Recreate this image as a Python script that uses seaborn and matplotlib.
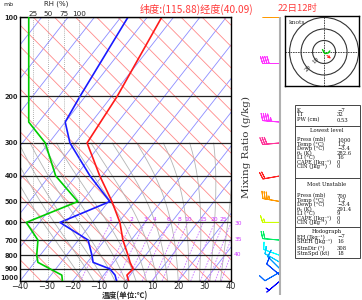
import numpy as np
import pandas as pd
import matplotlib
matplotlib.use("Agg")
import matplotlib.pyplot as plt
from matplotlib.patches import Circle, Rectangle
from matplotlib.lines import Line2D
import seaborn as sns

sns.set_theme(style="white")
plt.rcParams['font.family'] = ['Noto Sans CJK SC', 'DejaVu Sans']
plt.rcParams['axes.unicode_minus'] = True

# sounding values
pres = [1000, 950, 900, 850, 800, 700, 600, 500, 400, 300, 250, 200, 100]
temp = [1.2, -1.2, -0.7, -3.8, -6.6, -13.1, -19.5, -28.7, -40.9, -55.5, -56.6, -57.9, -64.5]
dewp = [-3.4, -5.7, -9.5, -17.8, -20.3, -26.3, -42.2, -29.5, -44.6, -62.0, -70.0, -72.0, -77.3]
rh = [73, 72, 53, 33, 31, 33, 14, 98, 62, 45, 18, 18, 18]

# winds
wind_p = [100, 150, 250, 300, 400, 500, 600, 700, 800, 850, 900, 925, 950, 1000]
wind_dir = [270, 270, 275, 265, 260, 280, 270, 275, 290, 300, 315, 240, 310, 230]
wind_spd = [45, 40, 45, 30, 20, 35, 15, 20, 15, 12, 10, 8, 10, 6]
wind_col = ['#ff9900', '#ff33ff', '#ff33ff', '#ff3399', '#ff2222', '#ff9900', '#ccff00',
            '#00ee66', '#00ffff', '#00ccff', '#0099ff', '#0066ff', '#0044ff', '#0000ff']

# hodograph (knots)
hodo_u = [-1.4, 0.6, 3.5, 5.0]
hodo_v = [2.1, -1.4, -0.9, 0.9]
storm_u, storm_v = 7.8, -7.2

# reference lines
isotherms = np.arange(-120, 41, 10)
adiabat_base = np.arange(-40, 201, 8)
thetaw_lines = np.arange(-16, 37, 4)
mix_ratios = [1, 2, 3, 4, 6, 8, 10, 15, 20, 25, 30, 35, 40]
p_ticks = [100, 200, 300, 400, 500, 600, 700, 800, 900, 1000]
t_ticks = [-40, -30, -20, -10, 0, 10, 20, 30, 40]
rh_ticks = [25, 50, 75, 100]

# table text
tbl_top = [("K", "\u22127"), ("TT", "32"), ("PW (cm)", "0.53")]
tbl_low = [("Press (mb)", "1000"), ("Temp (\u00b0C)", "1.2"), ("Dewp (\u00b0C)", "\u22123.4"),
           ("\u03b8\u2091 (K)", "282.6"), ("LI (\u00b0C)", "16"),
           ("CAPE (Jkg\u207b\u00b9)", "0"), ("CIN (Jkg\u207b\u00b9)", "0")]
tbl_mu = [("Press (mb)", "700"), ("Temp (\u00b0C)", "1.2"), ("Dewp (\u00b0C)", "\u22123.4"),
          ("\u03b8\u2091 (K)", "291.4"), ("LI (\u00b0C)", "9"),
          ("CAPE (Jkg\u207b\u00b9)", "0"), ("CIN (Jkg\u207b\u00b9)", "0")]
tbl_hodo = [("EH (Jkg\u207b\u00b9)", "\u22127"), ("SREH (Jkg\u207b\u00b9)", "16")]
tbl_storm = [("StmDir (\u00b0)", "308"), ("StmSpd (kt)", "18")]

SKEW = 34.0
ADIA = 43.0
SERIF = ['DejaVu Serif', 'Liberation Serif']


def skew_x(t, p):
    return np.asarray(t, float) + SKEW * np.log(1000.0 / np.asarray(p, float))


def sat_vp(tc):
    return 6.112 * np.exp(17.67 * tc / (tc + 243.5))


def dew_from_w(w, p):
    e = w * p / (622.0 + w)
    lg = np.log(e / 6.112)
    return 243.5 * lg / (17.67 - lg)


def moist_path(tw, plev):
    def dtdp(T, p):
        es = sat_vp(T - 273.15)
        rs = 0.622 * es / (p - es)
        num = (287.0 * T + 2.5e6 * rs) / p
        den = 1004.0 + 2.5e6 ** 2 * rs * 0.622 / (287.0 * T * T)
        return num / den
    T = tw + 273.15
    out = [T]
    for i in range(1, len(plev)):
        dp = plev[i] - plev[i - 1]
        k1 = dtdp(T, plev[i - 1])
        k2 = dtdp(T + dp * k1, plev[i])
        T = T + dp * 0.5 * (k1 + k2)
        out.append(T)
    return np.array(out) - 273.15


W, H = 362, 300
fig = plt.figure(figsize=(W / 100, H / 100), dpi=100)
fig.patch.set_facecolor('white')


def px(x0, y0, x1, y1):
    return [x0 / W, 1 - y1 / H, (x1 - x0) / W, (y1 - y0) / H]


ax = fig.add_axes(px(20, 17, 231, 281))
ax.set_yscale('log')
ax.set_ylim(1000, 100)
ax.set_xlim(-40, 40)

pp = np.geomspace(1000, 100, 120)
for t in isotherms:
    ax.plot(skew_x(np.full_like(pp, t), pp), pp, color='#8c8cff', lw=0.6)
for x0 in adiabat_base:
    ax.plot(x0 - ADIA * np.log(1000.0 / pp), pp, color='#ff8a8a', lw=0.6)
pm = np.linspace(1000, 300, 200)
for tw in thetaw_lines:
    ax.plot(skew_x(moist_path(tw, pm), pm), pm, color='#b4b4b4', lw=0.6)
pw = np.linspace(1000, 600, 40)
for w in mix_ratios:
    ax.plot(skew_x(dew_from_w(w, pw), pw), pw, color='#cc77ff', lw=0.6, ls=(0, (2, 1.5)))
    if w <= 25:
        ax.text(skew_x(dew_from_w(w, 600), 600), 597, str(w), color='#cc33ff',
                fontsize=4.3, ha='center', va='bottom', family='DejaVu Sans')
    else:
        pgrid = np.linspace(1000, 500, 500)
        xs = skew_x(dew_from_w(w, pgrid), pgrid)
        pe = pgrid[np.argmin(np.abs(xs - 40))]
        ax.text(41.2, pe, str(w), color='#cc33ff', fontsize=4.3, ha='left', va='center',
                clip_on=False, family='DejaVu Sans')

for p in p_ticks:
    ax.axhline(p, color='#222222', lw=0.9)

prof = pd.DataFrame({'p': pres, 'xt': skew_x(temp, pres), 'xd': skew_x(dewp, pres), 'rh': rh})
sns.lineplot(data=prof, x='xt', y='p', orient='y', sort=False, color='#ff1a1a', lw=1.2, ax=ax)
sns.lineplot(data=prof, x='xd', y='p', orient='y', sort=False, color='#1a1aff', lw=1.2, ax=ax)

# RH axis on top
axr = ax.twiny()
axr.set_xlim(3.75, 348)
for v in rh_ticks:
    axr.axvline(v, color='#999999', lw=0.6, ls=(0, (1, 1.5)))
sns.lineplot(data=prof, x='rh', y='p', orient='y', sort=False, color='#00cc00', lw=1.2, ax=axr)
axr.set_xticks(rh_ticks)
axr.set_xticklabels([str(v) for v in rh_ticks], fontsize=5.2, family='DejaVu Sans')
axr.tick_params(axis='x', length=0, pad=0.3)
axr.set_xlabel('')
for s in axr.spines.values():
    s.set_visible(False)

ax.set_yticks(p_ticks)
ax.set_yticklabels([str(p) for p in p_ticks], fontsize=4.7, fontweight='bold', family='DejaVu Sans')
ax.get_yticklabels()[-1].set_va('bottom')
ax.yaxis.set_minor_locator(matplotlib.ticker.NullLocator())
ax.set_xticks(t_ticks)
ax.set_xticklabels([f"{t}".replace('-', '\u2212') for t in t_ticks], fontsize=5.9, family='DejaVu Sans')
ax.tick_params(axis='y', length=0, pad=1.2)
ax.tick_params(axis='x', length=0, pad=0.8)
ax.set_xlabel('')
ax.set_ylabel('')
for s in ax.spines.values():
    s.set_color('black')
    s.set_linewidth(1.0)

fig.text(56 / W, 1 - 3.8 / H, 'RH (%)', fontsize=5.0, ha='center', va='center', family='DejaVu Sans')
fig.text(8 / W, 1 - 4.5 / H, 'mb', fontsize=4.5, ha='center', va='center', family='DejaVu Sans')
fig.text(140 / W, 1 - 9 / H, '纬度:(115.88)经度(40.09)', fontsize=7.3, color='#ff3a3a',
         ha='left', va='center')
fig.text(278 / W, 1 - 9 / H, '22日12时', fontsize=6.8, color='#ff3a3a', ha='left', va='center')
fig.text(125 / W, 1 - 296 / H, '温度(单位:℃)', fontsize=5.5, fontweight='bold',
         ha='center', va='center')
fig.text(246 / W, 1 - 147 / H, 'Mixing Ratio (g/kg)', fontsize=7.5, rotation=90,
         ha='center', va='center', family=SERIF, color='#333333')

# wind barbs column
axw = fig.add_axes(px(255, 17, 290, 295))
axw.set_yscale('log')
axw.set_ylim(1000 * np.exp(14 / 114.6), 100)
axw.set_xlim(0, 1)
axw.axis('off')
axw.axvline(25 / 35, color='#b0b0b0', lw=1.5)
wd = np.deg2rad(np.array(wind_dir, float))
ws = np.array(wind_spd, float)
axw.barbs(np.full(len(wind_p), 25 / 35), wind_p, -ws * np.sin(wd), -ws * np.cos(wd),
          barbcolor=wind_col, flagcolor=wind_col, length=5, linewidth=0.7,
          sizes=dict(emptybarb=0.0))

# hodograph
axh = fig.add_axes(px(285, 16, 359, 86))
axh.set_xlim(-34, 30.4)
axh.set_ylim(-29.6, 31.3)
axh.set_xticks([])
axh.set_yticks([])
for r in [10, 20, 30]:
    axh.add_patch(Circle((0, 0), r, fill=False, color='#333333', lw=0.8))
axh.axhline(0, color='#333333', lw=0.6, ls=(0, (2, 1)))
axh.axvline(0, color='#333333', lw=0.6, ls=(0, (2, 1)))
axh.plot(hodo_u, hodo_v, color='#00cc00', lw=1.0)
axh.annotate('', xy=(storm_u, storm_v), xytext=(hodo_u[1], hodo_v[1]),
             arrowprops=dict(arrowstyle='->', color='#ff2222', lw=0.7, mutation_scale=4))
for r in [10, 20]:
    axh.text(-r * 0.72, -r * 0.72, str(r), rotation=45, fontsize=4, ha='center', va='center',
             family=SERIF)
axh.text(0.05, 0.94, 'knots', transform=axh.transAxes, fontsize=4.3, ha='left', va='top',
         family=SERIF)
for s in axh.spines.values():
    s.set_color('black')
    s.set_linewidth(1.0)

# info table
tf = dict(fontsize=3.8, family=SERIF, va='center', color='#111111')
fig.add_artist(Rectangle((295 / W, 1 - 258 / H), 65 / W, 153 / H, transform=fig.transFigure,
                         fill=False, edgecolor='#444444', lw=0.7))
for yy in [126, 178, 227]:
    fig.add_artist(Line2D([295 / W, 360 / W], [1 - yy / H] * 2, transform=fig.transFigure,
                          color='#444444', lw=0.7))


def rows(items, y0, dy):
    for i, (lab, val) in enumerate(items):
        y = y0 + i * dy
        fig.text(297 / W, 1 - y / H, lab, ha='left', **tf)
        fig.text(337 / W, 1 - y / H, val, ha='left', **tf)


rows(tbl_top, 110, 5)
fig.text(327 / W, 1 - 131 / H, 'Lowest level', ha='center', **tf)
rows(tbl_low, 140, 4.4)
fig.text(327 / W, 1 - 184 / H, 'Most Unstable', ha='center', **tf)
rows(tbl_mu, 196, 4.4)
fig.text(327 / W, 1 - 231 / H, 'Hodograph', ha='center', **tf)
rows(tbl_hodo, 237, 4.4)
rows(tbl_storm, 249, 4.4)

fig.savefig('out.png', dpi=100, facecolor='white')
